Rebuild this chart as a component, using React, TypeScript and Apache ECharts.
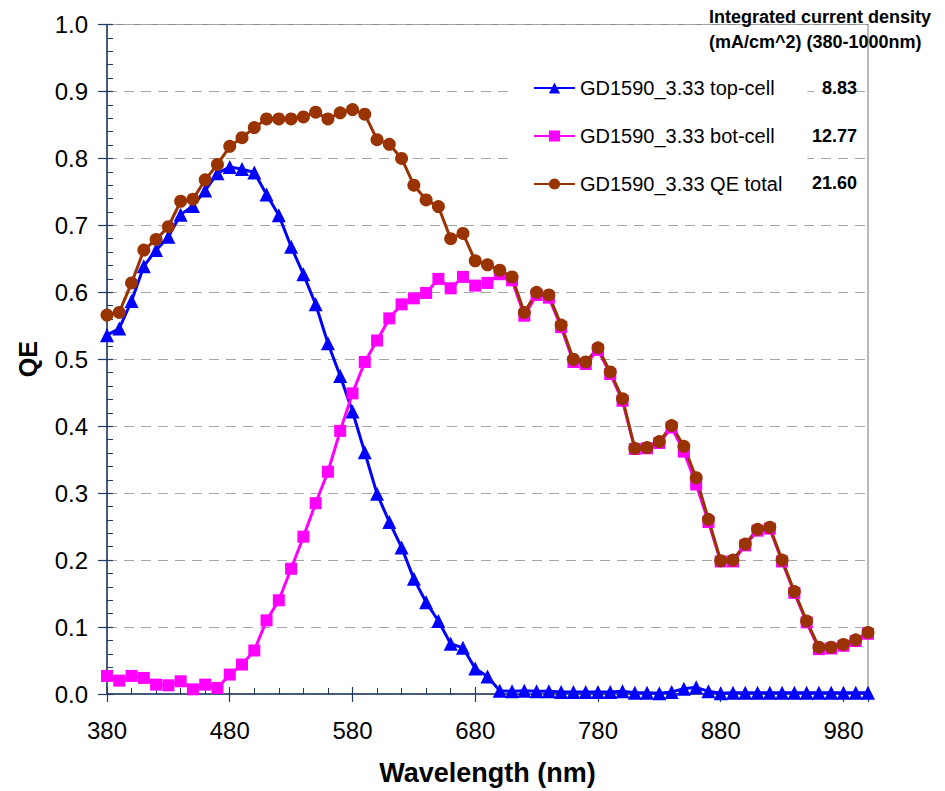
import React, { useEffect, useRef } from "react";
import * as echarts from "echarts";

const wavelengths = [
  380, 390, 400, 410, 420, 430, 440, 450, 460, 470, 480, 490, 500, 510, 520, 530, 540, 550, 560, 570,
  580, 590, 600, 610, 620, 630, 640, 650, 660, 670, 680, 690, 700, 710, 720, 730, 740, 750, 760, 770,
  780, 790, 800, 810, 820, 830, 840, 850, 860, 870, 880, 890, 900, 910, 920, 930, 940, 950, 960, 970,
  980, 990, 1000,
];

const topCell = [
  0.536, 0.546, 0.587, 0.639, 0.663, 0.683, 0.716, 0.729, 0.752, 0.778, 0.787, 0.784, 0.779, 0.746, 0.715, 0.668, 0.627, 0.582, 0.524, 0.475,
  0.422, 0.361, 0.299, 0.257, 0.219, 0.172, 0.137, 0.109, 0.075, 0.069, 0.038, 0.026, 0.005, 0.004, 0.005, 0.004, 0.004, 0.003, 0.003, 0.003,
  0.003, 0.003, 0.004, 0.002, 0.002, 0.001, 0.003, 0.008, 0.010, 0.004, 0.001, 0.002, 0.002, 0.002, 0.002, 0.002, 0.002, 0.002, 0.002, 0.002,
  0.002, 0.002, 0.002,
];

const botCell = [
  0.027, 0.020, 0.027, 0.024, 0.014, 0.013, 0.019, 0.007, 0.014, 0.009, 0.029, 0.044, 0.065, 0.110, 0.140, 0.187, 0.235, 0.285, 0.332, 0.393,
  0.449, 0.496, 0.528, 0.561, 0.582, 0.591, 0.599, 0.620, 0.606, 0.623, 0.610, 0.614, 0.627, 0.618, 0.565, 0.596, 0.592, 0.548, 0.496, 0.493,
  0.514, 0.478, 0.438, 0.366, 0.367, 0.375, 0.398, 0.362, 0.313, 0.257, 0.198, 0.198, 0.222, 0.244, 0.247, 0.198, 0.151, 0.107, 0.067, 0.068,
  0.072, 0.079, 0.090,
];

const qeTotal = [
  0.566, 0.570, 0.614, 0.663, 0.679, 0.698, 0.736, 0.739, 0.768, 0.791, 0.818, 0.831, 0.846, 0.859, 0.859, 0.859, 0.862, 0.869, 0.859, 0.868,
  0.873, 0.866, 0.828, 0.821, 0.800, 0.760, 0.738, 0.728, 0.680, 0.688, 0.647, 0.641, 0.633, 0.623, 0.570, 0.600, 0.596, 0.551, 0.500, 0.496,
  0.517, 0.481, 0.441, 0.367, 0.368, 0.377, 0.401, 0.370, 0.323, 0.261, 0.199, 0.200, 0.224, 0.246, 0.249, 0.200, 0.153, 0.109, 0.070, 0.070,
  0.074, 0.081, 0.092,
];

const seriesNames = ["GD1590_3.33 top-cell", "GD1590_3.33 bot-cell", "GD1590_3.33 QE total"];
const integratedCurrent = ["8.83", "12.77", "21.60"];
const headerLines = ["Integrated current density", "(mA/cm^2) (380-1000nm)"];
const xTitle = "Wavelength (nm)";
const yTitle = "QE";

const FONT = "'Liberation Sans', Arial, sans-serif";
const AXIS_COLOR = "#1F3B63";

export default function App() {
  const ref = useRef<HTMLDivElement | null>(null);

  useEffect(() => {
    if (!ref.current) return;
    const chart = echarts.init(ref.current, null, { renderer: "svg" });

    const pairs = (vals: number[]) => wavelengths.map((w, i) => [w, vals[i]]);

    const commonX = { type: "value", min: 380, max: 1000, interval: 100 };
    const commonY = { type: "value", min: 0, max: 1, interval: 0.1 };

    const legendCenters = [88, 136, 183];

    const option: any = {
      animation: false,
      backgroundColor: "#fff",
      textStyle: { fontFamily: FONT },
      grid: {
        left: 107,
        right: 77,
        top: 24.5,
        bottom: 89.5,
        show: true,
        borderColor: "#8c8c8c",
        borderWidth: 1.2,
        backgroundColor: "transparent",
      },
      legend: {
        orient: "vertical",
        left: 515,
        top: 62,
        itemWidth: 41,
        itemHeight: 14,
        itemGap: 28,
        backgroundColor: "#fff",
        padding: [16, 25, 12, 18],
        textStyle: { fontSize: 20, color: "#000", fontFamily: FONT, lineHeight: 20 },
        data: seriesNames,
      },
      xAxis: [
        {
          ...commonX,
          position: "bottom",
          name: xTitle,
          nameLocation: "middle",
          nameGap: 65,
          nameTextStyle: { fontSize: 27, fontWeight: "bold", color: "#000", fontFamily: FONT },
          axisLine: { show: true, lineStyle: { color: AXIS_COLOR, width: 1.5 } },
          axisTick: { show: true, inside: true, length: 7, lineStyle: { color: AXIS_COLOR, width: 1.2 } },
          minorTick: { show: true, splitNumber: 5, length: 6, lineStyle: { color: AXIS_COLOR, width: 1 } },
          axisLabel: {
            fontSize: 24,
            color: "#000",
            fontFamily: FONT,
            margin: 24,
            showMaxLabel: false,
          },
          splitLine: { show: false },
        },
        {
          ...commonX,
          position: "bottom",
          axisLine: { show: false },
          axisTick: { show: true, inside: false, length: 8, lineStyle: { color: AXIS_COLOR, width: 1.2 } },
          axisLabel: { show: false },
          splitLine: { show: false },
        },
      ],
      yAxis: [
        {
          ...commonY,
          position: "left",
          name: yTitle,
          nameLocation: "middle",
          nameGap: 67,
          nameRotate: 90,
          nameTextStyle: { fontSize: 25, fontWeight: "bold", color: "#000", fontFamily: FONT },
          axisLine: { show: true, lineStyle: { color: AXIS_COLOR, width: 1.5 } },
          axisTick: { show: true, inside: true, length: 6, lineStyle: { color: AXIS_COLOR, width: 1.2 } },
          minorTick: { show: true, splitNumber: 5, length: 6, lineStyle: { color: AXIS_COLOR, width: 1 } },
          axisLabel: {
            fontSize: 24,
            color: "#000",
            fontFamily: FONT,
            margin: 19,
            formatter: (v: number) => v.toFixed(1),
          },
          splitLine: { show: true, lineStyle: { color: "#a6a6a6", type: [10, 7], width: 1.2 } },
        },
        {
          ...commonY,
          position: "left",
          axisLine: { show: false },
          axisTick: { show: true, inside: false, length: 9, lineStyle: { color: AXIS_COLOR, width: 1.2 } },
          axisLabel: { show: false },
          splitLine: { show: false },
        },
      ],
      graphic: [
        {
          type: "text",
          left: 709,
          top: 4,
          z: 10,
          style: {
            text: headerLines.join("\n"),
            font: `bold 18px ${FONT}`,
            lineHeight: 25,
            fill: "#000",
          },
        },
        ...integratedCurrent.map((t, i) => ({
          type: "text",
          x: 857,
          y: legendCenters[i],
          z: 10,
          style: {
            text: t,
            font: `bold 18px ${FONT}`,
            fill: "#000",
            align: "right",
            verticalAlign: "middle",
          },
        })),
      ],
      series: [
        {
          name: seriesNames[0],
          type: "line",
          xAxisIndex: 0,
          yAxisIndex: 0,
          data: pairs(topCell),
          symbol: "triangle",
          symbolSize: 14,
          color: "#0000FF",
          lineStyle: { width: 3, color: "#0000FF" },
          itemStyle: { color: "#0000FF" },
        },
        {
          name: seriesNames[1],
          type: "line",
          xAxisIndex: 0,
          yAxisIndex: 0,
          data: pairs(botCell),
          symbol: "rect",
          symbolSize: 12,
          color: "#FF00FF",
          lineStyle: { width: 3, color: "#FF00FF" },
          itemStyle: { color: "#FF00FF" },
        },
        {
          name: seriesNames[2],
          type: "line",
          xAxisIndex: 0,
          yAxisIndex: 0,
          data: pairs(qeTotal),
          symbol: "circle",
          symbolSize: 13,
          color: "#993300",
          lineStyle: { width: 3, color: "#993300" },
          itemStyle: { color: "#993300" },
        },
      ],
    };

    chart.setOption(option);
    return () => chart.dispose();
  }, []);

  return (
    <div
      ref={ref}
      style={{ position: "fixed", left: 0, top: 0, width: 945, height: 791, background: "#fff" }}
    />
  );
}
